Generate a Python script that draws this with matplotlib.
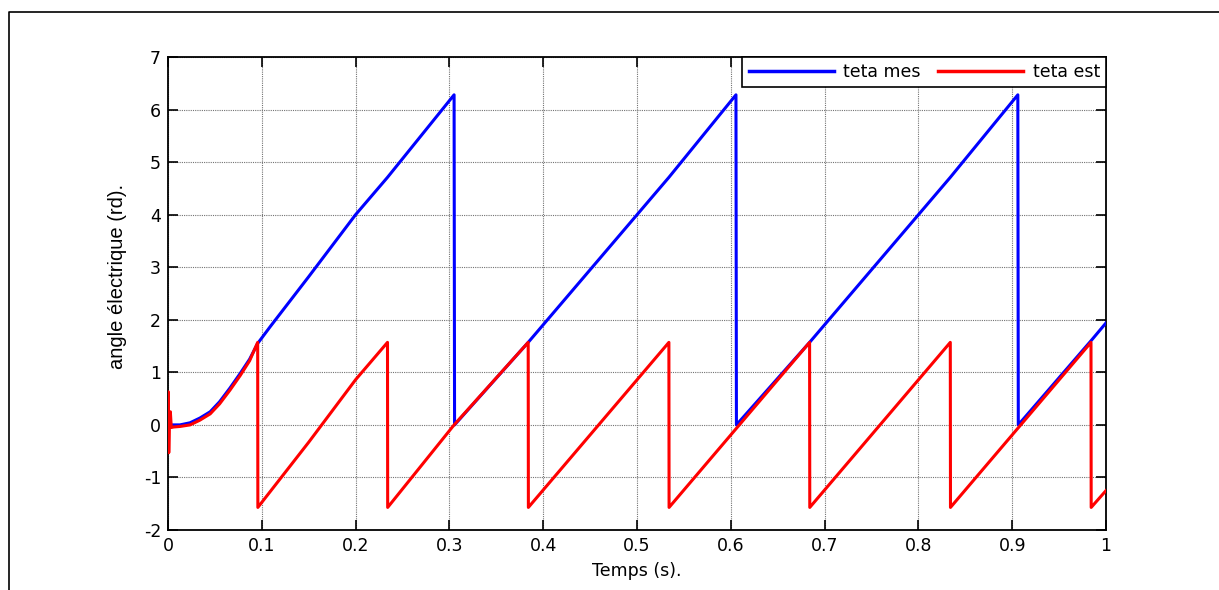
import numpy as np
import matplotlib
matplotlib.use('Agg')
import matplotlib.pyplot as plt
from matplotlib.lines import Line2D

matplotlib.rc('font', family=['DejaVu Sans'])
matplotlib.rc('axes', unicode_minus=False)

# teta mes (blue) - vertices
t_mes = [0, 0.0128, 0.0235, 0.034, 0.045, 0.055, 0.066, 0.077, 0.087, 0.0956, 0.109,
         0.15, 0.2, 0.234, 0.305, 0.3055, 0.384, 0.534, 0.6055, 0.606, 0.684, 0.834,
         0.906, 0.9065, 0.984, 1.0]
teta_mes = [0, 0.0, 0.04, 0.13, 0.25, 0.44, 0.70, 0.98, 1.25, 1.55, 1.87,
            2.82, 4.0, 4.71, 6.28, 0.0, 1.57, 4.71, 6.28, 0.0, 1.57, 4.71,
            6.28, 0.0, 1.60, 1.94]

# teta est (red)
t_est = [0, 0.0003, 0.0008, 0.0015, 0.0025, 0.0035, 0.006, 0.0128, 0.0235, 0.034, 0.045,
         0.055, 0.066, 0.077, 0.087, 0.0956, 0.0958, 0.15, 0.2, 0.234, 0.2342, 0.305,
         0.384, 0.3842, 0.534, 0.5342, 0.684, 0.6842, 0.834, 0.8342, 0.984, 0.9842, 1.0]
teta_est = [0, 0.63, -0.53, 0.05, 0.25, -0.05, -0.04, -0.03, 0.0, 0.09, 0.21,
            0.40, 0.66, 0.94, 1.22, 1.57, -1.57, -0.33, 0.86, 1.57, -1.57, 0.0,
            1.57, -1.57, 1.57, -1.57, 1.57, -1.57, 1.57, -1.57, 1.57, -1.57, -1.25]

xticks = np.arange(0, 1.01, 0.1)
xticklabels = ['0', '0.1', '0.2', '0.3', '0.4', '0.5', '0.6', '0.7', '0.8', '0.9', '1']
yticks = np.arange(-2, 8, 1)

fig = plt.figure(figsize=(12.19, 5.90), dpi=100)
ax = fig.add_axes([168/1219, 1 - 530/590, (1106 - 168)/1219, (530 - 57)/590])

ax.plot(t_mes, teta_mes, color='#0000ff', lw=2.2, label='teta mes', zorder=3)
ax.plot(t_est, teta_est, color='#ff0000', lw=2.2, label='teta est', zorder=4)

ax.set_xlim(0, 1)
ax.set_ylim(-2, 7)
ax.set_xticks(xticks)
ax.set_xticklabels(xticklabels)
ax.set_yticks(yticks)
ax.tick_params(direction='in', length=7, width=1.2, top=True, right=True,
               labelsize=12.5, pad=5)
for s in ax.spines.values():
  s.set_linewidth(1.3)
ax.grid(True, linestyle=(0, (1, 1)), color='0.45', linewidth=0.8)

ax.set_xlabel('Temps (s).', fontsize=12.5, labelpad=5)
ax.set_ylabel('angle électrique (rd).', fontsize=14.5,
              family=['Liberation Sans', 'DejaVu Sans'])
ax.yaxis.set_label_coords(-0.0437, 0.537)

leg = ax.legend(loc='upper right', ncol=2, fontsize=12.5, borderaxespad=0,
                fancybox=False, framealpha=1, edgecolor='black', handlelength=4.9,
                handletextpad=0.55, columnspacing=1.0, borderpad=0.35)
leg.get_frame().set_linewidth(1.2)
for h in leg.get_lines():
  h.set_linewidth(2.5)

# outer frame of the figure window
fig.add_artist(Line2D([9/1219, 9/1219, 1.0], [0, 1 - 12/590, 1 - 12/590],
                      transform=fig.transFigure, color='black', lw=1.2))

plt.savefig('out.png', dpi=100)
